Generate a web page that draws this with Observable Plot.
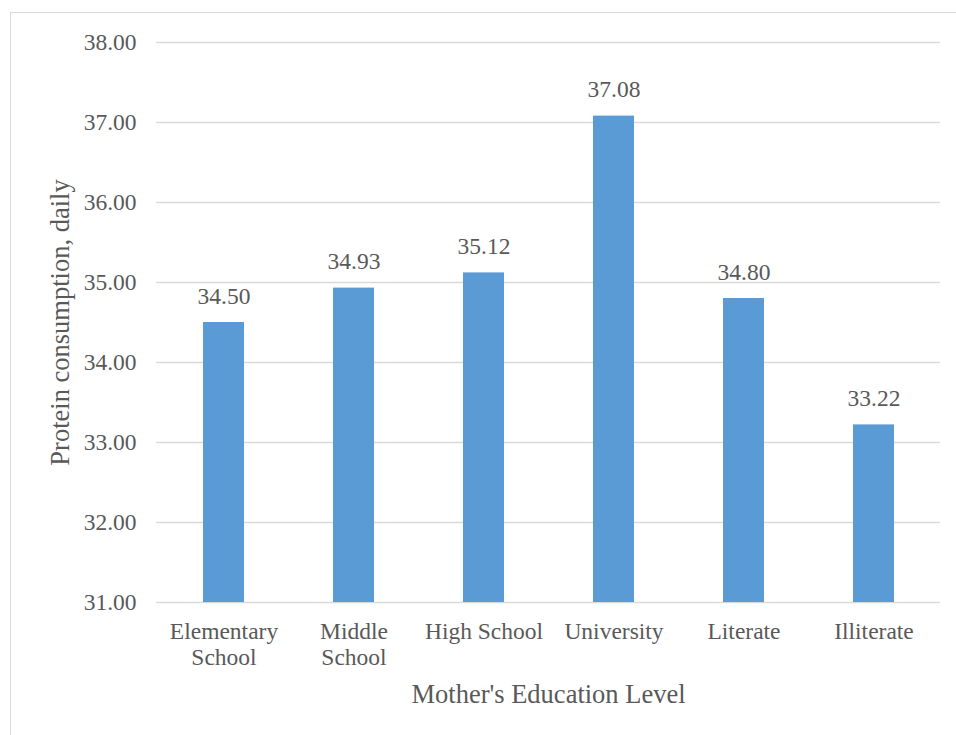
<!DOCTYPE html>
<html>
<head>
<meta charset="utf-8">
<script src="https://cdn.jsdelivr.net/npm/d3@7"></script>
<script src="https://cdn.jsdelivr.net/npm/@observablehq/plot@0.6"></script>
<style>
  html, body { margin: 0; padding: 0; background: #fff; overflow: hidden; }
  #wrap { position: relative; width: 956px; height: 735px; overflow: hidden; }
  #border { position: absolute; left: 10px; top: 12px; width: 980px; height: 760px;
            border: 1.5px solid #d9d9d9; box-sizing: border-box; pointer-events: none; }
  #chart { position: absolute; left: 0; top: 0; }
  #chart svg, #chart svg text { font-family: "Liberation Serif", "Times New Roman", serif !important; }
</style>
</head>
<body>
<div id="wrap">
  <div id="chart"></div>
  <div id="border"></div>
</div>
<script>
// Mean daily protein consumption by mother's education level
const categories = ["Elementary School", "Middle School", "High School", "University", "Literate", "Illiterate"];
const tickLabels = ["Elementary\nSchool", "Middle\nSchool", "High School", "University", "Literate", "Illiterate"];
const values = [34.50, 34.93, 35.12, 37.08, 34.80, 33.22];
const yTicks = [31, 32, 33, 34, 35, 36, 37, 38];

const data = categories.map((c, i) => ({category: c, value: values[i]}));
const labelOf = new Map(categories.map((c, i) => [c, tickLabels[i]]));

const serif = "Liberation Serif";
const textColor = "#595959";
const gridColor = "#d9d9d9";
const barColor = "#5b9bd5";

const chart = Plot.plot({
  width: 956,
  height: 735,
  marginLeft: 156,
  marginRight: 16,
  marginTop: 42,
  marginBottom: 133,
  style: {fontFamily: serif, fontSize: "23.5px", color: textColor, background: "transparent"},
  x: {domain: categories, paddingInner: 0.686, paddingOuter: 0.343},
  y: {domain: [31, 38]},
  marks: [
    Plot.gridY(yTicks, {stroke: gridColor, strokeOpacity: 1, strokeWidth: 1.5}),
    Plot.barY(data, {x: "category", y1: 31, y2: "value", fill: barColor}),
    Plot.text(data, {x: "category", y: "value", text: d => d.value.toFixed(2), dy: -26.5,
      fill: textColor, fontSize: 23.5, fontFamily: serif}),
    Plot.axisY({ticks: yTicks, tickFormat: d => d.toFixed(2), tickSize: 0, tickPadding: 20,
      fontFamily: serif, fontSize: 23.5, fontVariant: "normal",
      label: "Protein consumption, daily", labelArrow: "none", labelAnchor: "center", labelOffset: 106}),
    Plot.axisX({tickFormat: d => labelOf.get(d), tickSize: 0, tickPadding: 18, lineHeight: 1.1,
      fontFamily: serif, fontSize: 23.5,
      label: "Mother's Education Level", labelArrow: "none", labelAnchor: "center", labelOffset: 100})
  ]
});

// axis titles use a slightly larger size than tick labels; drop any direction arrow
chart.querySelectorAll("g[aria-label='y-axis label'] text, g[aria-label='x-axis label'] text")
  .forEach(t => {
    t.setAttribute("font-size", "26.5");
    t.textContent = t.textContent.replace(/\s*[\u2190-\u2193]\s*/g, "");
  });

document.getElementById("chart").appendChild(chart);
</script>
</body>
</html>
